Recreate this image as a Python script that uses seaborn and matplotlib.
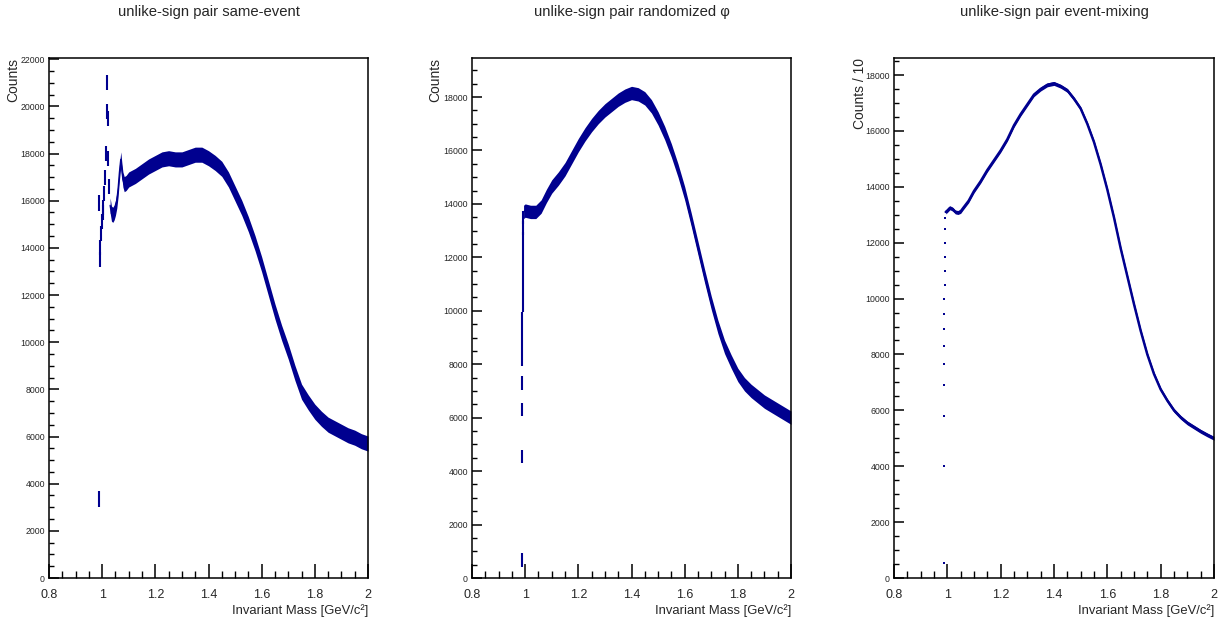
import numpy as np
import pandas as pd
import matplotlib
matplotlib.use("Agg")
import matplotlib.pyplot as plt
import seaborn as sns
from matplotlib.ticker import MultipleLocator, FuncFormatter

# ---------------- data ----------------
titles = ["unlike-sign pair same-event",
          "unlike-sign pair randomized \u03c6",
          "unlike-sign pair event-mixing"]
ylabels = ["Counts", "Counts", "Counts / 10"]
xlabel = "Invariant Mass [GeV/c\u00b2]"
y_tops = [22050, 19460, 18610]

# panel 1: same-event
thr_mass1 = [0.988, 0.989]
thr_counts1 = [3350, 15900]
mass1 = [0.990, 0.993, 0.996, 0.999, 1.002, 1.005, 1.008, 1.011, 1.014, 1.017,
         1.019, 1.021, 1.023, 1.026, 1.030, 1.035, 1.040, 1.045, 1.050, 1.055,
         1.060, 1.065, 1.070, 1.074, 1.078, 1.083, 1.090, 1.100, 1.125, 1.150,
         1.175, 1.200, 1.225, 1.250, 1.275, 1.300, 1.325, 1.350, 1.375, 1.400,
         1.425, 1.450, 1.475, 1.500, 1.525, 1.550, 1.575, 1.600, 1.625, 1.650,
         1.675, 1.700, 1.725, 1.750, 1.775, 1.800, 1.825, 1.850, 1.875, 1.900,
         1.925, 1.950, 1.975, 2.000]
counts1 = [13500, 14000, 14600, 15100, 15500, 15700, 16300, 17000, 18000, 19800,
           21000, 19500, 17800, 16600, 15800, 15450, 15400, 15500, 15700, 16000,
           16500, 17200, 17750, 17300, 16900, 16700, 16750, 16900, 17050, 17250,
           17450, 17600, 17750, 17800, 17750, 17750, 17850, 17950, 17950, 17800,
           17600, 17350, 16900, 16300, 15700, 15000, 14200, 13300, 12300, 11300,
           10400, 9600, 8700, 7900, 7450, 7050, 6750, 6500, 6350, 6200,
           6050, 5950, 5800, 5700]
band1 = 320
smooth_from1 = 1.030

# panel 2: randomized phi
thr_mass2 = [0.987, 0.9875, 0.988, 0.9885, 0.9890, 0.9893, 0.9896, 0.9899, 0.9902,
             0.9905, 0.9908, 0.9911, 0.9914, 0.9917, 0.9920, 0.9925]
thr_counts2 = [670, 4550, 6300, 7300, 8200, 8700, 9200, 9700, 10200,
               10700, 11200, 11700, 12200, 12700, 13100, 13500]
mass2 = [0.994, 1.000, 1.020, 1.040, 1.060, 1.080, 1.100, 1.125, 1.150, 1.175,
         1.200, 1.225, 1.250, 1.275, 1.300, 1.325, 1.350, 1.375, 1.400, 1.425,
         1.450, 1.475, 1.500, 1.525, 1.550, 1.575, 1.600, 1.625, 1.650, 1.675,
         1.700, 1.725, 1.750, 1.775, 1.800, 1.825, 1.850, 1.875, 1.900, 1.925,
         1.950, 1.975, 2.000]
counts2 = [13700, 13750, 13700, 13700, 13900, 14300, 14650, 14950, 15300, 15750,
           16200, 16600, 16950, 17250, 17500, 17700, 17900, 18050, 18150, 18100,
           17950, 17650, 17200, 16650, 16000, 15250, 14400, 13400, 12350, 11300,
           10300, 9400, 8650, 8100, 7600, 7250, 7000, 6800, 6600, 6450,
           6300, 6150, 6000]
band2 = 250
smooth_from2 = 0.994

# panel 3: event-mixing
thr_mass3 = [0.986, 0.987, 0.9873, 0.9876, 0.9879, 0.9882, 0.9885, 0.9888, 0.9891,
             0.9894, 0.9897, 0.990, 0.9905, 0.991, 0.992]
thr_counts3 = [540, 4000, 5800, 6900, 7650, 8300, 8900, 9450, 10000, 10500,
               11000, 11500, 12000, 12500, 12900]
mass3 = [0.994, 1.000, 1.010, 1.020, 1.030, 1.040, 1.050, 1.060, 1.080, 1.100,
         1.125, 1.150, 1.175, 1.200, 1.225, 1.250, 1.275, 1.300, 1.325, 1.350,
         1.375, 1.400, 1.425, 1.450, 1.475, 1.500, 1.525, 1.550, 1.575, 1.600,
         1.625, 1.650, 1.675, 1.700, 1.725, 1.750, 1.775, 1.800, 1.825, 1.850,
         1.875, 1.900, 1.925, 1.950, 1.975, 2.000]
counts3 = [13100, 13150, 13250, 13200, 13100, 13080, 13120, 13250, 13500, 13850,
           14200, 14600, 14950, 15300, 15700, 16200, 16600, 16950, 17300, 17500,
           17650, 17700, 17600, 17450, 17150, 16800, 16250, 15600, 14800, 13900,
           12900, 11800, 10800, 9800, 8850, 8000, 7300, 6750, 6350, 6000,
           5750, 5550, 5400, 5250, 5120, 5000]
band3 = 70
smooth_from3 = 0.994

# ---------------- style ----------------
sns.set_theme(style="ticks")
plt.rcParams["font.family"] = ["Liberation Sans", "DejaVu Sans"]
navy = "#00008f"

W, H = 1224, 626
fig = plt.figure(figsize=(W / 100, H / 100), dpi=100)
fig.patch.set_facecolor("white")

rects = [(49, 58, 368, 578), (472, 58, 791, 578), (894, 58, 1214, 578)]
panels = [
    (thr_mass1, thr_counts1, mass1, counts1, band1, smooth_from1, "bar"),
    (thr_mass2, thr_counts2, mass2, counts2, band2, smooth_from2, "bar"),
    (thr_mass3, thr_counts3, mass3, counts3, band3, smooth_from3, "dot"),
]
label_x = [-0.091, -0.094, -0.084]

for i, ((l, t, r, b), (tm, tc, m, c, band, sfrom, kind)) in enumerate(zip(rects, panels)):
    ax = fig.add_axes([l / W, (H - b) / H, (r - l) / W, (b - t) / H])
    ax.set_facecolor("white")
    m = np.asarray(m, float)
    c = np.asarray(c, float)

    # threshold bins
    if kind == "bar":
        ax.errorbar(tm, tc, yerr=band, fmt="none", ecolor=navy, elinewidth=1.5, capsize=0)
    else:
        sns.scatterplot(x=tm, y=tc, ax=ax, color=navy, marker="s", s=2.5, linewidth=0)

    # steep part drawn as separate error bars, smooth part as a band
    steep = m < sfrom
    if steep.any():
        ax.errorbar(m[steep], c[steep], yerr=band, fmt="none", ecolor=navy,
                    elinewidth=1.5, capsize=0)
    sm = ~steep
    df = pd.DataFrame({"mass": m[sm], "counts": c[sm]})
    ax.fill_between(df["mass"], df["counts"] - band, df["counts"] + band,
                    color=navy, linewidth=0)
    sns.lineplot(data=df, x="mass", y="counts", ax=ax, color=navy,
                 linewidth=1.8 if kind == "dot" else 1.0)

    ax.set_xlim(0.8, 2.0)
    ax.set_ylim(0, y_tops[i])
    ax.xaxis.set_major_locator(MultipleLocator(0.2))
    ax.xaxis.set_minor_locator(MultipleLocator(0.05))
    ax.yaxis.set_major_locator(MultipleLocator(2000))
    ax.yaxis.set_minor_locator(MultipleLocator(500))
    ax.xaxis.set_major_formatter(FuncFormatter(lambda v, p: "%g" % round(v, 2)))
    ax.yaxis.set_major_formatter(FuncFormatter(lambda v, p: "%d" % round(v)))

    ax.tick_params(axis="x", which="major", direction="in", length=10, width=1.1,
                   labelsize=9, pad=8, bottom=True, top=False, color="black")
    ax.tick_params(axis="x", which="minor", direction="in", length=5, width=1.0,
                   bottom=True, top=False, color="black")
    ax.tick_params(axis="y", which="major", direction="in", length=7, width=1.1,
                   labelsize=6.3, pad=3, left=True, right=False, color="black")
    ax.tick_params(axis="y", which="minor", direction="in", length=3.5, width=1.0,
                   left=True, right=False, color="black")
    for s in ax.spines.values():
        s.set_visible(True)
        s.set_color("black")
        s.set_linewidth(1.1)

    ax.set_xlabel(xlabel, fontsize=9.4, loc="right")
    ax.xaxis.set_label_coords(1.0, -0.05)
    ax.xaxis.label.set_verticalalignment("top")
    ax.set_ylabel(ylabels[i], fontsize=10, loc="top")
    ax.yaxis.set_label_coords(label_x[i], 1.0)

    fig.text(((l + r) / 2) / W, 1 - 12 / H, titles[i], ha="center", va="center",
             fontsize=10.7)

fig.savefig("out.png", dpi=100, facecolor="white")
